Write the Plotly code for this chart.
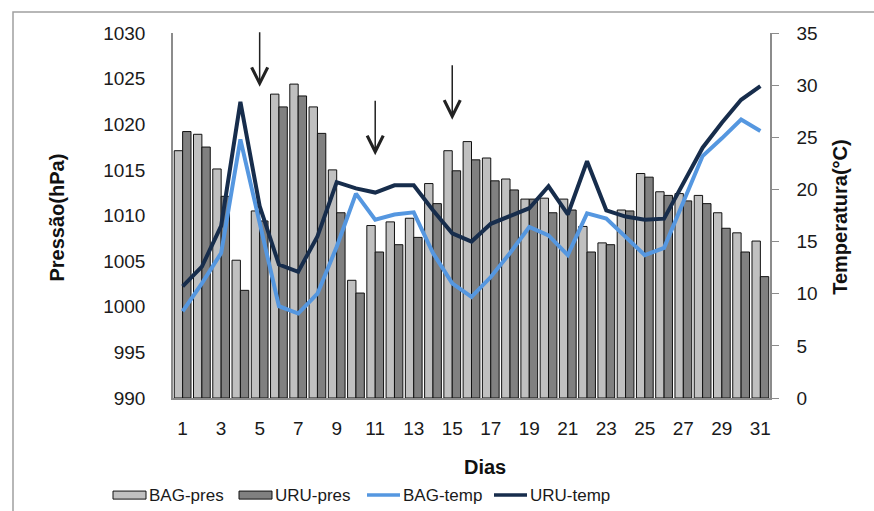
import plotly.graph_objects as go

# Daily series, January: station pressure (hPa) and air temperature (°C)
days = list(range(1, 32))
bag_pres = [1017.1, 1018.9, 1015.1, 1005.1, 1010.5, 1023.3, 1024.4, 1021.9, 1015.0, 1002.9,
            1008.9, 1009.3, 1009.7, 1013.5, 1017.1, 1018.1, 1016.3, 1014.0, 1011.8, 1011.9,
            1011.8, 1008.8, 1007.0, 1010.6, 1014.6, 1012.6, 1012.4, 1012.2, 1010.3, 1008.1,
            1007.2]
uru_pres = [1019.2, 1017.5, 1012.1, 1001.8, 1009.4, 1021.9, 1023.1, 1019.0, 1010.3, 1001.5,
            1006.0, 1006.8, 1007.6, 1011.3, 1014.9, 1016.1, 1013.8, 1012.8, 1011.8, 1010.3,
            1010.6, 1006.0, 1006.8, 1010.5, 1014.2, 1012.2, 1011.6, 1011.3, 1008.6, 1006.0,
            1003.3]
bag_temp = [8.3, 11.0, 13.9, 24.8, 16.8, 8.8, 8.1, 10.0, 14.5, 19.6,
            17.1, 17.6, 17.8, 13.9, 11.0, 9.7, 11.6, 13.9, 16.4, 15.6,
            13.7, 17.7, 17.2, 15.5, 13.7, 14.4, 18.8, 23.2, 24.9, 26.7,
            25.6]
uru_temp = [10.7, 12.6, 16.5, 28.4, 18.4, 12.8, 12.1, 15.5, 20.7, 20.1,
            19.7, 20.4, 20.4, 18.0, 15.8, 15.0, 16.7, 17.4, 18.2, 20.3,
            17.6, 22.7, 18.0, 17.4, 17.1, 17.2, 20.6, 24.0, 26.4, 28.6,
            29.9]

# Days flagged with arrows (frontal passages) and the pressure level of each arrow tip
arrow_days = [5, 11, 15]
arrow_tips = [1024.1, 1016.6, 1020.5]

x_ticks = list(range(1, 32, 2))
pres_ticks = list(range(990, 1031, 5))
temp_ticks = list(range(0, 36, 5))

FONT = "Liberation Sans, Arial, sans-serif"
TXT = "#1a1a1a"
AXIS = "#8c8c8c"
LIGHT = "#c0c0c0"
DARK = "#808080"
BLUE = "#5597e0"
NAVY = "#172d4c"

fig = go.Figure()
fig.add_trace(go.Bar(x=days, y=[p - 990 for p in bag_pres], base=990, name="BAG-pres",
                     marker=dict(color=LIGHT, line=dict(color="#111111", width=1))))
fig.add_trace(go.Bar(x=days, y=[p - 990 for p in uru_pres], base=990, name="URU-pres",
                     marker=dict(color=DARK, line=dict(color="#111111", width=1))))
fig.add_trace(go.Scatter(x=days, y=bag_temp, name="BAG-temp", mode="lines", yaxis="y2",
                         line=dict(color=BLUE, width=4)))
fig.add_trace(go.Scatter(x=days, y=uru_temp, name="URU-temp", mode="lines", yaxis="y2",
                         line=dict(color=NAVY, width=4)))

fig.update_layout(
    width=874, height=511,
    margin=dict(l=173, r=104, t=33, b=113),
    paper_bgcolor="white", plot_bgcolor="white",
    barmode="group", bargap=0.13, bargroupgap=0,
    showlegend=False,
    font=dict(family=FONT, color=TXT),
    xaxis=dict(range=[0.5, 31.5], tickvals=x_ticks, ticktext=[str(d) for d in x_ticks],
               showline=True, linecolor=AXIS, linewidth=1.5, ticks="", showgrid=False,
               zeroline=False, tickfont=dict(size=19), ticklabelstandoff=12),
    yaxis=dict(range=[990, 1030], tickvals=pres_ticks, showline=True, linecolor=AXIS,
               linewidth=1.5, ticks="", showgrid=False, zeroline=False,
               tickfont=dict(size=19), ticklabelstandoff=22),
    yaxis2=dict(range=[0, 35], tickvals=temp_ticks, overlaying="y", side="right",
                showline=True, linecolor=AXIS, linewidth=1.5, ticks="outside", ticklen=7,
                tickcolor=AXIS, showgrid=False, zeroline=False,
                tickfont=dict(size=19), ticklabelstandoff=14),
)

# Axis titles
fig.add_annotation(text="<b>Pressão(hPa)</b>", xref="paper", yref="paper",
                   x=-0.194, y=0.495, xanchor="center", yanchor="middle",
                   textangle=-90, showarrow=False, font=dict(size=20, color="#111111"))
fig.add_annotation(text="<b>Temperatura(°C)</b>", xref="paper", yref="paper",
                   x=1.118, y=0.495, xanchor="center", yanchor="middle",
                   textangle=-90, showarrow=False, font=dict(size=20, color="#111111"))
fig.add_annotation(text="<b>Dias</b>", xref="paper", yref="paper",
                   x=0.523, y=-0.189, xanchor="center", yanchor="middle",
                   showarrow=False, font=dict(size=20, color="#111111"))

# Arrows marking the selected days
for d, tip in zip(arrow_days, arrow_tips):
    fig.add_annotation(x=d, y=tip, xref="x", yref="y", ax=0, ay=-56, text="",
                       showarrow=True, arrowhead=5, arrowsize=2.1, arrowwidth=1.5,
                       arrowcolor="#222222")

# Legend drawn along the bottom
leg_y = -0.266
leg_h = 0.022
items = [("BAG-pres", "bar", LIGHT, 113, 146),
         ("URU-pres", "bar", DARK, 239, 272),
         ("BAG-temp", "line", BLUE, 367, 400),
         ("URU-temp", "line", NAVY, 494, 527)]
W = 874 - 173 - 104
for label, kind, col, x0, x1 in items:
    px0 = (x0 - 173) / W
    px1 = (x1 - 173) / W
    if kind == "bar":
        fig.add_shape(type="rect", xref="paper", yref="paper", x0=px0, x1=px1,
                      y0=leg_y - leg_h / 2, y1=leg_y + leg_h / 2,
                      fillcolor=col, line=dict(color="#111111", width=1))
    else:
        fig.add_shape(type="line", xref="paper", yref="paper", x0=px0, x1=px1,
                      y0=leg_y, y1=leg_y, line=dict(color=col, width=3.5))
    fig.add_annotation(text=label, xref="paper", yref="paper", x=px1 + 0.002, y=leg_y,
                       xanchor="left", yanchor="middle", showarrow=False,
                       font=dict(size=17, color=TXT))

# Outer frame of the chart area
fig.add_shape(type="rect", xref="paper", yref="paper",
              x0=(13 - 173) / W, x1=1.3, y0=-0.5, y1=(398 - 12) / 365,
              line=dict(color="#a0a0a0", width=1.5), fillcolor="rgba(0,0,0,0)", layer="below")

fig.write_html("out.html")
